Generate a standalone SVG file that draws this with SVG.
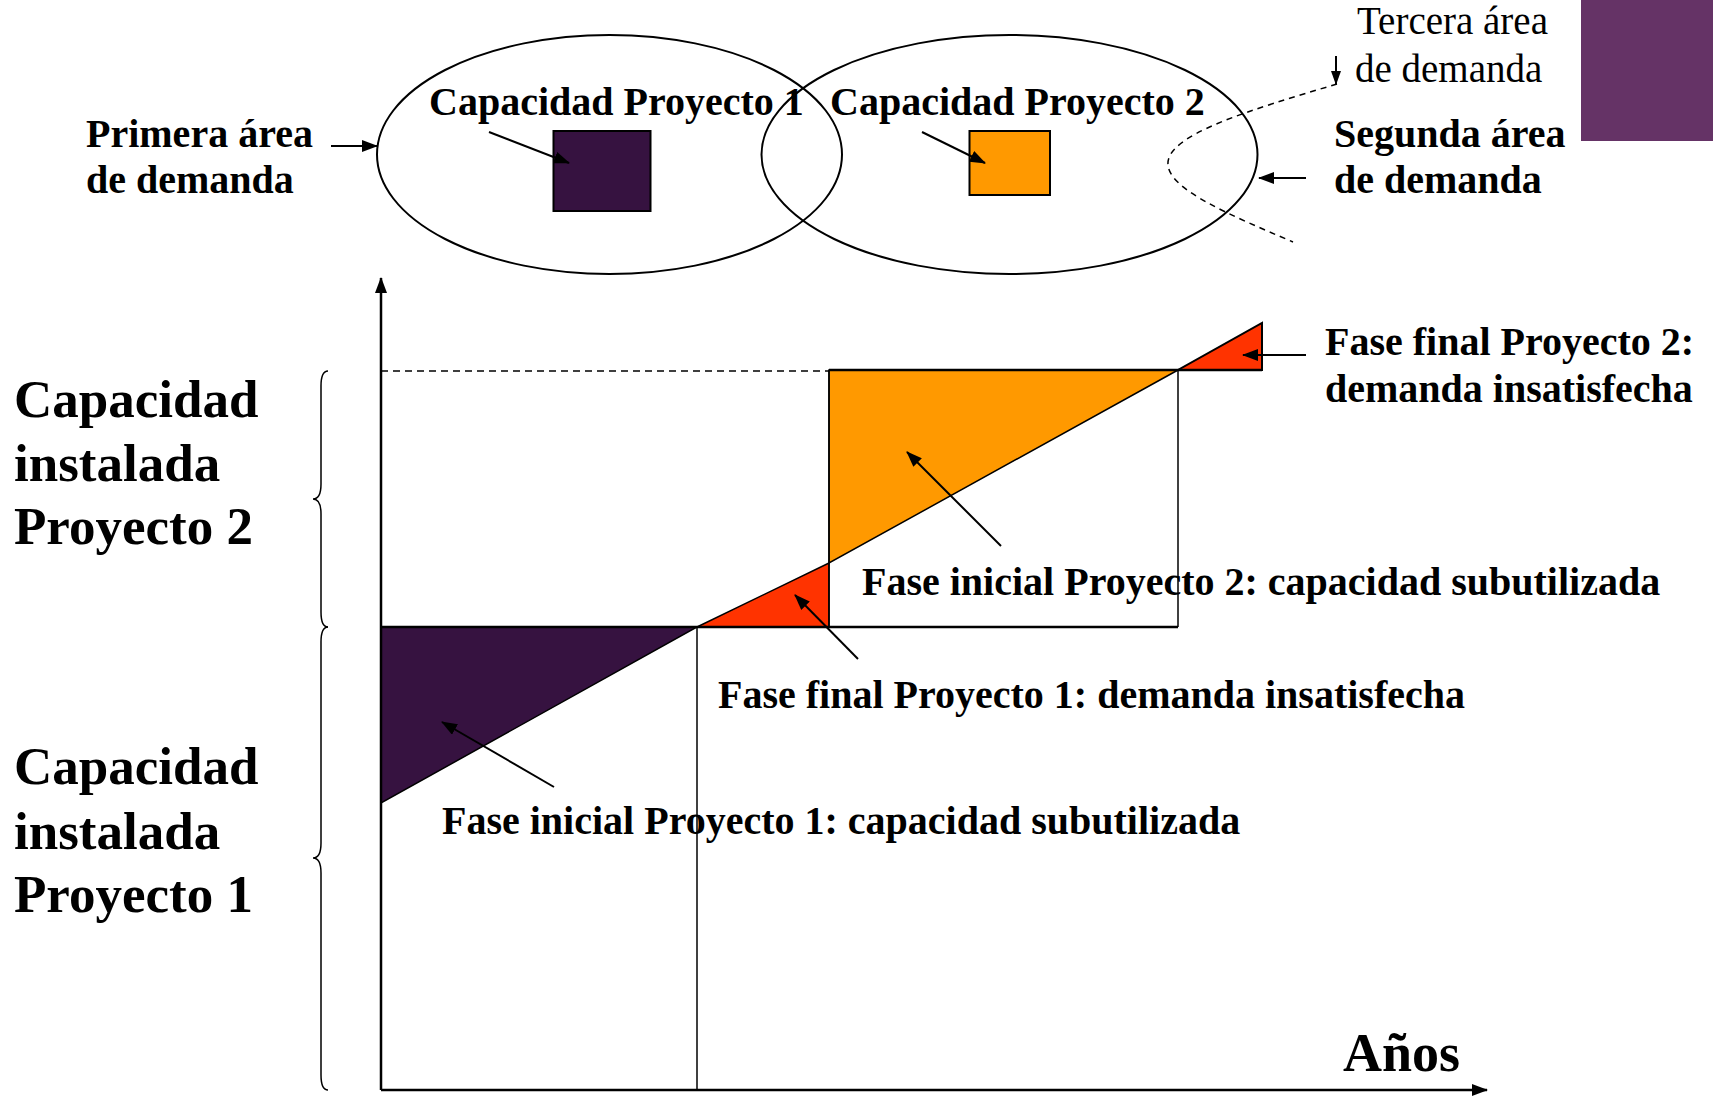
<svg xmlns="http://www.w3.org/2000/svg" width="1713" height="1097" viewBox="0 0 1713 1097">
<style>
  text { font-family: "Liberation Serif", "Times New Roman", serif; fill: #000; }
  .b { font-weight: bold; font-size: 40px; }
  .r { font-size: 39px; }
  .big { font-weight: bold; font-size: 53px; }
  .ln { stroke: #000; fill: none; }
  .arr { stroke: #000; stroke-width: 2; fill: none; marker-end: url(#ah); }
</style>
<defs>
  <marker id="ah" markerWidth="16" markerHeight="12" refX="15" refY="6" orient="auto" markerUnits="userSpaceOnUse">
    <path d="M0,0 L16,6 L0,12 z" fill="#000"/>
  </marker>
  <marker id="ahs" markerWidth="14" markerHeight="10" refX="13" refY="5" orient="auto" markerUnits="userSpaceOnUse">
    <path d="M0,0 L14,5 L0,10 z" fill="#000"/>
  </marker>
</defs>
<rect width="1713" height="1097" fill="#fff"/>

<g id="corner-box"><rect x="1581" y="0" width="132" height="141" fill="#653366"/></g>

<g id="area1">
  <ellipse cx="609.5" cy="154.5" rx="232.5" ry="119.5" class="ln" stroke-width="2"/>
  <rect x="553.5" y="131" width="97" height="80" fill="#361240" stroke="#000" stroke-width="2"/>
  <text class="b" x="429" y="115">Capacidad Proyecto 1</text>
</g>
<g id="area2">
  <ellipse cx="1009.5" cy="154.5" rx="248" ry="119.5" class="ln" stroke-width="2"/>
  <rect x="969.5" y="131" width="80.5" height="64" fill="#FF9900" stroke="#000" stroke-width="2"/>
  <text class="b" x="830" y="115">Capacidad Proyecto 2</text>
</g>
<g id="area3">
  <path d="M1337 84 C1250 110 1165 135 1168 165 C1170 190 1230 215 1293 242" class="ln" stroke-width="1.5" stroke-dasharray="6 5"/>
</g>
<g id="label-primera">
  <text class="b" x="86" y="147">Primera área</text>
  <text class="b" x="86" y="193">de demanda</text>
</g>
<g id="label-segunda">
  <text class="b" x="1334" y="147">Segunda área</text>
  <text class="b" x="1334" y="193">de demanda</text>
</g>
<g id="label-tercera">
  <text class="r" x="1357" y="34">Tercera área</text>
  <text class="r" x="1355" y="82">de demanda</text>
</g>

<g id="chart">
  <polygon points="381,627 697,627 381,803" fill="#361240" stroke="#000" stroke-width="1.5"/>
  <polygon points="697,627 829,627 829,563" fill="#FF3300" stroke="#000" stroke-width="1.5"/>
  <polygon points="829,370 1178,370 829,563" fill="#FF9900" stroke="#000" stroke-width="1.5"/>
  <polygon points="1178,370 1262,370 1262,323" fill="#FF3300" stroke="#000" stroke-width="2"/>
  <line x1="381" y1="371" x2="829" y2="371" class="ln" stroke-width="1.5" stroke-dasharray="7 5"/>
  <line x1="829" y1="370" x2="1262" y2="370" class="ln" stroke-width="2.5"/>
  <line x1="381" y1="627" x2="1178" y2="627" class="ln" stroke-width="2.5"/>
  <line x1="697" y1="627" x2="697" y2="1090" class="ln" stroke-width="1.5"/>
  <line x1="1178" y1="370" x2="1178" y2="627" class="ln" stroke-width="1.5"/>
  <line x1="829" y1="370" x2="829" y2="627" class="ln" stroke-width="1.5"/>
  <line x1="381" y1="1090" x2="381" y2="278" class="ln" stroke-width="2.5" marker-end="url(#ah)"/>
  <line x1="381" y1="1090" x2="1487" y2="1090" class="ln" stroke-width="2.5" marker-end="url(#ah)"/>
  <path d="M328 371 Q321 371 321 386 L321 484 Q321 499 313 499 Q321 499 321 514 L321 612 Q321 627 328 627" class="ln" stroke-width="1.5"/>
  <path d="M328 627 Q321 627 321 642 L321 843 Q321 858 313 858 Q321 858 321 873 L321 1075 Q321 1090 328 1090" class="ln" stroke-width="1.5"/>
  <text class="b" x="1343" y="1071" style="font-size:54px">Años</text>
</g>

<g id="label-p2">
  <text class="big" x="14" y="417">Capacidad</text>
  <text class="big" x="14" y="481">instalada</text>
  <text class="big" x="14" y="544">Proyecto 2</text>
</g>
<g id="label-p1">
  <text class="big" x="14" y="784">Capacidad</text>
  <text class="big" x="14" y="849">instalada</text>
  <text class="big" x="14" y="912">Proyecto 1</text>
</g>
<g id="label-ff2">
  <text class="b" x="1325" y="355">Fase final Proyecto 2:</text>
  <text class="b" x="1325" y="402">demanda insatisfecha</text>
</g>
<g id="label-fi2"><text class="b" x="862" y="595">Fase inicial Proyecto 2: capacidad subutilizada</text></g>
<g id="label-ff1"><text class="b" x="718" y="708">Fase final Proyecto 1: demanda insatisfecha</text></g>
<g id="label-fi1"><text class="b" x="442" y="834">Fase inicial Proyecto 1: capacidad subutilizada</text></g>

<g id="connectors">
  <line x1="489" y1="132" x2="569" y2="163" class="arr"/>
  <line x1="922" y1="132" x2="985" y2="163" class="arr"/>
  <line x1="331" y1="146" x2="377" y2="146" class="arr"/>
  <line x1="1306" y1="178" x2="1259" y2="178" class="arr"/>
  <line x1="1336" y1="56" x2="1336" y2="84" stroke="#000" stroke-width="2" marker-end="url(#ahs)"/>
  <line x1="1306" y1="355" x2="1243" y2="355" class="arr"/>
  <line x1="1001" y1="546" x2="907" y2="452" class="arr"/>
  <line x1="858" y1="659" x2="795" y2="595" class="arr"/>
  <line x1="554" y1="787" x2="442" y2="722" class="arr"/>
</g>
</svg>
